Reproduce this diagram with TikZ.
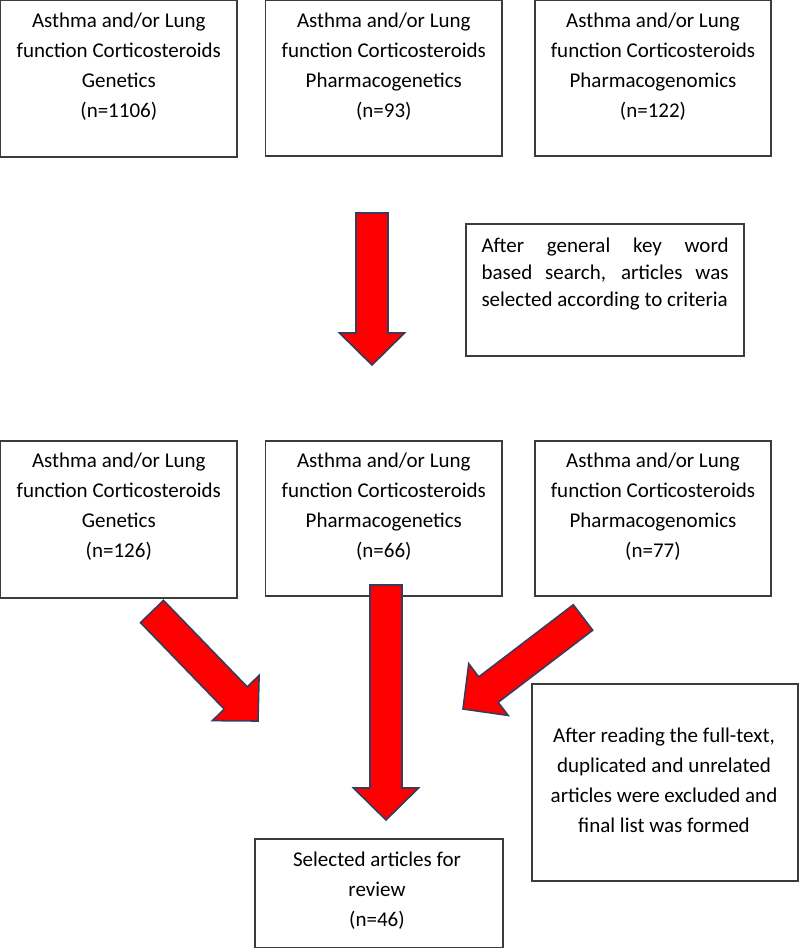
\documentclass[tikz,border=0pt]{standalone}
\usepackage{fontspec}
\setmainfont{Carlito}
\usetikzlibrary{calc}
\definecolor{boxline}{RGB}{60,60,60}
\definecolor{arrline}{RGB}{55,60,95}
\definecolor{arrfill}{RGB}{255,0,0}
\tikzset{
  box/.style={draw=boxline, line width=1.3pt, rectangle, inner sep=0pt},
  txt/.style={align=center, inner sep=0pt, font=\fontsize{21pt}{30pt}\selectfont},
  fatarr/.style={draw=arrline, fill=arrfill, line width=1.6pt, line join=miter}
}
% #1 tail coordinate, #2 tip coordinate
\newcommand\fatarrow[2]{%
  \coordinate (#1-h) at ($(#2)!32pt!(#1)$);
  \draw[fatarr] ($(#1)!16pt!90:(#2)$) -- ($(#1-h)!16pt!-90:(#1)$)
    -- ($(#1-h)!32.5pt!-90:(#1)$) -- (#2)
    -- ($(#1-h)!32.5pt!90:(#1)$) -- ($(#1-h)!16pt!90:(#1)$)
    -- ($(#1)!16pt!-90:(#2)$) -- cycle;%
}
\begin{document}
\begin{tikzpicture}[x=1pt,y=-1pt]
\useasboundingbox (0,0) rectangle (799,948);
% top row
\node[box, minimum width=236.4pt, minimum height=156.4pt] (b1) at (118.8,78.8) {};
\node[box, minimum width=236.5pt, minimum height=155.4pt] (b2) at (383.8,78.3) {};
\node[box, minimum width=236pt, minimum height=155.4pt] (b3) at (653,78.3) {};
\node[txt] (t1) at (118.8,67) {Asthma and/or Lung\\function Corticosteroids\\Genetics\\(n=1106)};
\node[txt] (t2) at (383.8,67) {Asthma and/or Lung\\function Corticosteroids\\Pharmacogenetics\\(n=93)};
\node[txt] (t3) at (653,67) {Asthma and/or Lung\\function Corticosteroids\\Pharmacogenomics\\(n=122)};
% criteria note
\node[box, minimum width=278pt, minimum height=132pt] (c) at (605,290) {};
\node[txt, align=justify, text width=247pt, font=\fontsize{21pt}{27pt}\selectfont] (ct) at (605,274)
  {After general key word\linebreak based search, articles was\linebreak selected according to criteria};
% middle row
\node[box, minimum width=236.4pt, minimum height=157pt] (m1) at (118.8,519.5) {};
\node[box, minimum width=236.3pt, minimum height=155pt] (m2) at (383.8,518.5) {};
\node[box, minimum width=236pt, minimum height=155pt] (m3) at (653,518.5) {};
\node[txt] (s1) at (118.8,507) {Asthma and/or Lung\\function Corticosteroids\\Genetics\\(n=126)};
\node[txt] (s2) at (383.8,507) {Asthma and/or Lung\\function Corticosteroids\\Pharmacogenetics\\(n=66)};
\node[txt] (s3) at (653,507) {Asthma and/or Lung\\function Corticosteroids\\Pharmacogenomics\\(n=77)};
% full-text note
\node[box, minimum width=266pt, minimum height=197pt] (n) at (665,782.5) {};
\node[txt] (nt) at (664,780) {After reading the full-text,\\duplicated and unrelated\\articles were excluded and\\final list was formed};
% final box
\node[box, minimum width=248pt, minimum height=108.4pt] (f) at (379,893.2) {};
\node[txt] (ft) at (377,891) {Selected articles for\\review\\(n=46)};
% arrows
\coordinate (a1) at (372,213);  \coordinate (a1e) at (372,365);
\coordinate (a2) at (152,611.5); \coordinate (a2e) at (258,721);
\coordinate (a3) at (386,585);  \coordinate (a3e) at (386,820);
\coordinate (a4) at (583,617.5); \coordinate (a4e) at (463,709);
\fatarrow{a1}{a1e}
\fatarrow{a2}{a2e}
\fatarrow{a3}{a3e}
\fatarrow{a4}{a4e}
\end{tikzpicture}
\end{document}
